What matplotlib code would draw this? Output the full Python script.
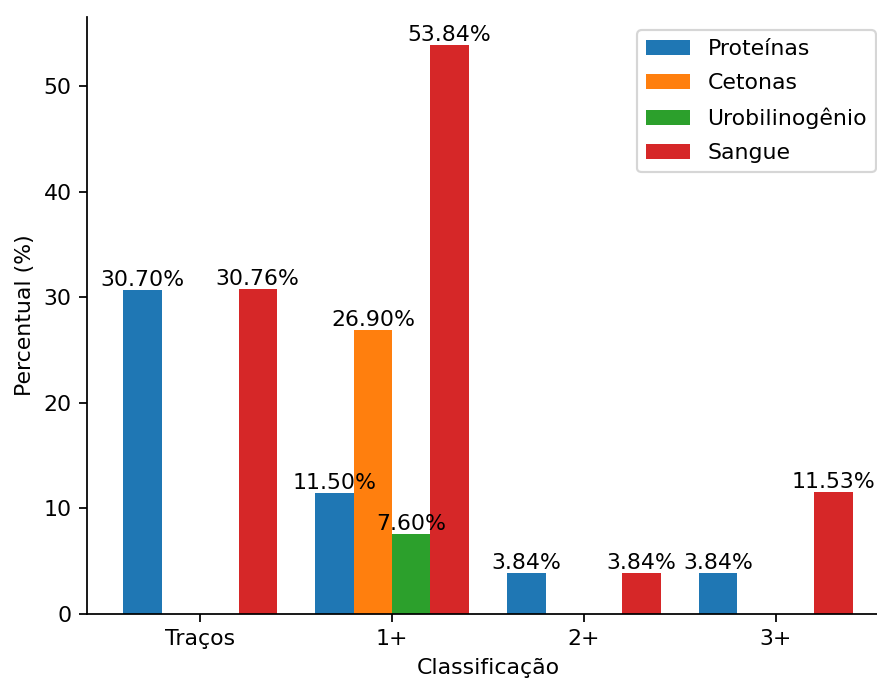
import numpy as np
import matplotlib
matplotlib.use("Agg")
import matplotlib.pyplot as plt

categorias = ["Traços", "1+", "2+", "3+"]
proteinas = [30.70, 11.50, 3.84, 3.84]
cetonas = [0, 26.90, 0, 0]
urobilinogenio = [0, 7.60, 0, 0]
sangue = [30.76, 53.84, 3.84, 11.53]

series = [("Proteínas", proteinas), ("Cetonas", cetonas),
          ("Urobilinogênio", urobilinogenio), ("Sangue", sangue)]

dpi = 158
fig = plt.figure(figsize=(877/dpi, 683/dpi), dpi=dpi)
ax = fig.add_axes([87/877, 69/683, 802/877, 597/683])

x = np.arange(len(categorias))
w = 0.2
for i, (nome, vals) in enumerate(series):
    bars = ax.bar(x + (i - 1.5) * w, vals, w, label=nome)
    labels = ["%.2f%%" % v if v > 0 else "" for v in vals]
    ax.bar_label(bars, labels=labels)

ax.set_xticks(x)
ax.set_xticklabels(categorias)
ax.set_xlabel("Classificação")
ax.set_ylabel("Percentual (%)")
ax.spines["top"].set_visible(False)
ax.spines["right"].set_visible(False)
ax.legend(loc="upper right", labelspacing=0.65, borderaxespad=0.6)

fig.savefig("out.png", dpi=dpi)
